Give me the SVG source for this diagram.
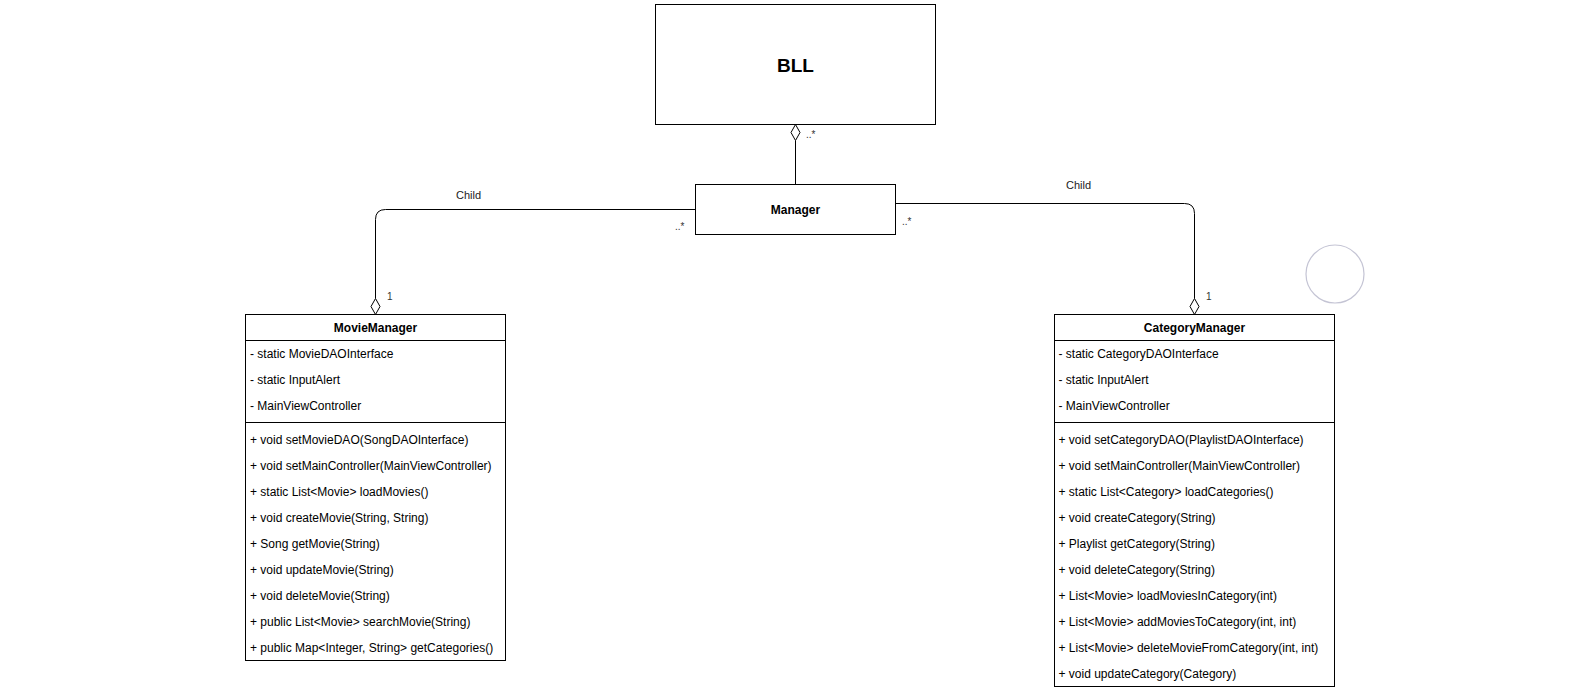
<svg xmlns="http://www.w3.org/2000/svg" width="1591" height="687" viewBox="0 0 1591 687">
<style>
.box{fill:#fff;stroke:#000;stroke-width:1}
.ln{fill:none;stroke:#000;stroke-width:1}
.t{font-family:"Liberation Sans",Arial,sans-serif;font-size:12px;fill:#000}
.b{font-weight:bold;text-anchor:middle}
.lbl{font-family:"Liberation Sans",Arial,sans-serif;font-size:11px;fill:#222}
.m{font-family:"Liberation Sans",Arial,sans-serif;font-size:10px;fill:#333}
.dia{fill:#fff;stroke:#000;stroke-width:1}
</style>
<rect width="1591" height="687" fill="#fff"/>
<g id="connectors">
<path class="ln" d="M795.5 184.5 V140.5"/>
<polygon class="dia" points="795.5,124.5 800,132.5 795.5,140.5 791,132.5"/>
<path class="ln" d="M695.5 209.5 H385.5 Q375.5 209.5 375.5 219.5 V298.5"/>
<polygon class="dia" points="375.5,314.5 380,306.5 375.5,298.5 371,306.5"/>
<path class="ln" d="M895.5 203.5 H1184.5 Q1194.5 203.5 1194.5 213.5 V298.5"/>
<polygon class="dia" points="1194.5,314.5 1199,306.5 1194.5,298.5 1190,306.5"/>
<text class="m" x="806" y="138">..*</text>
<text class="lbl" x="468.5" y="199" text-anchor="middle">Child</text>
<text class="m" x="675" y="230">..*</text>
<text class="m" x="387" y="300">1</text>
<text class="lbl" x="1078.5" y="189" text-anchor="middle">Child</text>
<text class="m" x="902" y="225">..*</text>
<text class="m" x="1206" y="300">1</text>
</g>
<g id="BLL">
<rect class="box" x="655.5" y="4.5" width="280" height="120"/>
<text class="t b" x="795.5" y="72" style="font-size:19px">BLL</text>
</g>
<g id="Manager">
<rect class="box" x="695.5" y="184.5" width="200" height="50"/>
<text class="t b" x="795.5" y="214">Manager</text>
</g>
<g id="MovieManager">
<rect class="box" x="245.5" y="314.5" width="260" height="346"/>
<path class="ln" d="M245.5 340.5 H505.5 M245.5 422.5 H505.5"/>
<text class="t b" x="375.5" y="332">MovieManager</text>
<text class="t" x="250" y="358">- static MovieDAOInterface</text>
<text class="t" x="250" y="384">- static InputAlert</text>
<text class="t" x="250" y="410">- MainViewController</text>
<text class="t" x="250" y="444">+ void setMovieDAO(SongDAOInterface)</text>
<text class="t" x="250" y="470">+ void setMainController(MainViewController)</text>
<text class="t" x="250" y="496">+ static List&lt;Movie&gt; loadMovies()</text>
<text class="t" x="250" y="522">+ void createMovie(String, String)</text>
<text class="t" x="250" y="548">+ Song getMovie(String)</text>
<text class="t" x="250" y="574">+ void updateMovie(String)</text>
<text class="t" x="250" y="600">+ void deleteMovie(String)</text>
<text class="t" x="250" y="626">+ public List&lt;Movie&gt; searchMovie(String)</text>
<text class="t" x="250" y="652">+ public Map&lt;Integer, String&gt; getCategories()</text>
</g>
<g id="CategoryManager">
<rect class="box" x="1054.5" y="314.5" width="280" height="372"/>
<path class="ln" d="M1054.5 340.5 H1334.5 M1054.5 422.5 H1334.5"/>
<text class="t b" x="1194.5" y="332">CategoryManager</text>
<text class="t" x="1058.5" y="358">- static CategoryDAOInterface</text>
<text class="t" x="1058.5" y="384">- static InputAlert</text>
<text class="t" x="1058.5" y="410">- MainViewController</text>
<text class="t" x="1058.5" y="444">+ void setCategoryDAO(PlaylistDAOInterface)</text>
<text class="t" x="1058.5" y="470">+ void setMainController(MainViewController)</text>
<text class="t" x="1058.5" y="496">+ static List&lt;Category&gt; loadCategories()</text>
<text class="t" x="1058.5" y="522">+ void createCategory(String)</text>
<text class="t" x="1058.5" y="548">+ Playlist getCategory(String)</text>
<text class="t" x="1058.5" y="574">+ void deleteCategory(String)</text>
<text class="t" x="1058.5" y="600">+ List&lt;Movie&gt; loadMoviesInCategory(int)</text>
<text class="t" x="1058.5" y="626">+ List&lt;Movie&gt; addMoviesToCategory(int, int)</text>
<text class="t" x="1058.5" y="652">+ List&lt;Movie&gt; deleteMovieFromCategory(int, int)</text>
<text class="t" x="1058.5" y="678">+ void updateCategory(Category)</text>
</g>
<g id="circle">
<circle cx="1335" cy="274" r="29" fill="none" stroke="#c4c4d4" stroke-width="1.2"/>
</g>
</svg>
